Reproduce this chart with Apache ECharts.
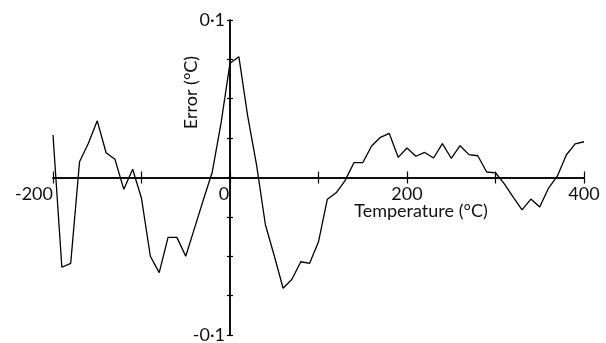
<!DOCTYPE html>
<html>
<head>
<meta charset="utf-8">
<script src="https://cdn.jsdelivr.net/npm/echarts@6/dist/echarts.min.js"></script>
<style>
html,body{margin:0;padding:0;background:#fff;}
#chart{width:606px;height:343px;}
</style>
</head>
<body>
<div id="chart"></div>
<script>
var temperatures = [-200,-190,-180,-170,-160,-150,-140,-130,-120,-110,-100,-90,-80,-70,-60,-50,-40,-30,-20,-10,
  0,10,20,30,40,50,60,70,80,90,100,110,120,130,140,150,160,170,180,190,
  200,210,220,230,240,250,260,270,280,290,300,310,320,330,340,350,360,370,380,390,400];
var errors = [0.027,-0.057,-0.0545,0.010,0.0217,0.036,0.0157,0.0116,-0.0075,0.0052,
  -0.0132,-0.050,-0.0604,-0.038,-0.038,-0.050,-0.032,-0.014,0.0035,0.035,
  0.0726,0.0767,0.039,0.008,-0.030,-0.0497,-0.0703,-0.0646,-0.0535,-0.0545,
  -0.0408,-0.0138,-0.0097,-0.002,0.0094,0.0094,0.020,0.0255,0.028,0.0128,
  0.0187,0.0135,0.0159,0.0124,0.0215,0.0122,0.0202,0.0145,0.0138,0.0035,
  0.003,-0.004,-0.0125,-0.0206,-0.0137,-0.0187,-0.0067,0.001,0.0143,0.0214,0.0227];
var xTickLabels = {'-200':'-200','0':'0','200':'200','400':'400'};
var yTickLabels = {'0.1':'0·1','-0.1':'-0·1'};

var FONT = 'Lato';
var FS = 18;
var W = 606, H = 343;
var G = {left:53, right:22, top:20, bottom:8};
var XMIN = -200, XMAX = 400, YMIN = -0.1, YMAX = 0.1;
// distance of the zero lines from the grid edges
var gw = W - G.left - G.right, gh = H - G.top - G.bottom;
var zeroFromBottom = gh * (0 - YMIN) / (YMAX - YMIN);
var zeroFromTop = gh - zeroFromBottom;
var zeroFromLeft = gw * (0 - XMIN) / (XMAX - XMIN);
var zeroFromRight = gw - zeroFromLeft;

var chart = echarts.init(document.getElementById('chart'), null, {renderer:'canvas'});
var pts = temperatures.map(function(t,i){return [t, errors[i]];});

function xFmt(v){
  var k = String(Math.round(v));
  if (!(k in xTickLabels)) return '';
  if (k === '-200') return '{l200|' + xTickLabels[k] + '}';
  if (k === '0') return '{l0|' + xTickLabels[k] + '}';
  return '{n|' + xTickLabels[k] + '}';
}
function yFmt(v){
  var k = (Math.round(v*1000)/1000).toString();
  return (k in yTickLabels) ? yTickLabels[k] : '';
}
var axisLineStyle = {color:'#000', width:1.5};
var tickStyle = {color:'#000', width:1.2};

chart.setOption({
  animation:false,
  backgroundColor:'#fff',
  grid:{left:G.left, right:G.right, top:G.top, bottom:G.bottom, containLabel:false, outerBoundsMode:'none'},
  xAxis:[{
    type:'value', min:XMIN, max:XMAX, interval:100, position:'bottom', offset:-zeroFromBottom,
    axisLine:{onZero:false, lineStyle:axisLineStyle},
    axisTick:{show:true, inside:false, length:6, lineStyle:tickStyle},
    splitLine:{show:false},
    axisLabel:{margin:8, formatter:xFmt, showMinLabel:true, showMaxLabel:true,
      rich:{
        l200:{fontFamily:FONT, fontSize:FS, color:'#111', padding:[0,38,0,0]},
        l0:{fontFamily:FONT, fontSize:FS, color:'#111', padding:[0,12,0,0]},
        n:{fontFamily:FONT, fontSize:FS, color:'#111'}
      }},
    name:'Temperature (°C)', nameLocation:'middle', nameGap:25, nameMoveOverlap:false,
    nameTextStyle:{fontFamily:FONT, fontSize:FS, color:'#111', padding:[0,0,0,205]}
  },{
    type:'value', min:XMIN, max:XMAX, interval:100, position:'top', offset:-zeroFromTop,
    axisLine:{onZero:false, lineStyle:axisLineStyle},
    axisTick:{show:true, inside:false, length:6, lineStyle:tickStyle},
    splitLine:{show:false}, axisLabel:{show:false}
  }],
  yAxis:[{
    type:'value', min:YMIN, max:YMAX, interval:0.025, position:'left', offset:-zeroFromLeft,
    axisLine:{onZero:false, lineStyle:axisLineStyle},
    axisTick:{show:true, inside:false, length:3, lineStyle:tickStyle},
    splitLine:{show:false},
    axisLabel:{margin:5, formatter:yFmt, showMinLabel:true, showMaxLabel:true, fontFamily:FONT, fontSize:FS, color:'#111'},
    name:'Error (°C)', nameLocation:'middle', nameGap:30, nameMoveOverlap:false,
    nameTextStyle:{fontFamily:FONT, fontSize:FS, color:'#111', padding:[0,0,0,170]}
  },{
    type:'value', min:YMIN, max:YMAX, interval:0.025, position:'right', offset:-zeroFromRight,
    axisLine:{onZero:false, lineStyle:axisLineStyle},
    axisTick:{show:true, inside:false, length:3, lineStyle:tickStyle},
    splitLine:{show:false}, axisLabel:{show:false}
  }],
  series:[{
    type:'line', data:pts, xAxisIndex:0, yAxisIndex:0,
    showSymbol:false, symbol:'none', smooth:false,
    lineStyle:{color:'#000', width:1.3}, z:5
  }]
});
</script>
</body>
</html>
